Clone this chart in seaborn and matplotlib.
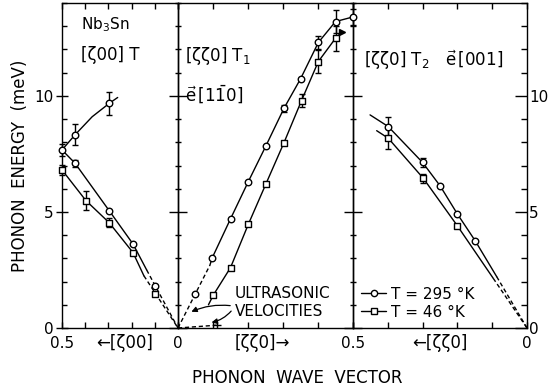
import matplotlib
matplotlib.use("Agg")
import matplotlib.pyplot as plt
from matplotlib.lines import Line2D
from matplotlib.ticker import MultipleLocator
import seaborn as sns

# values: zeta (r.l.u.) and phonon energy (meV)

# --- [z00] T panel ---
z00_up_q = [0.5, 0.444, 0.296]
z00_up_e = [7.67, 8.32, 9.68]
z00_up_err = [0.25, 0.45, 0.5]
z00_295_q = [0.444, 0.297, 0.194, 0.100]
z00_295_e = [7.10, 5.06, 3.62, 1.80]
z00_295_err = [0.15, 0, 0, 0]
z00_46_q = [0.5, 0.397, 0.297, 0.194, 0.100]
z00_46_e = [6.81, 5.49, 4.54, 3.25, 1.45]
z00_46_err = [0.2, 0.4, 0.2, 0, 0]
# curves as drawn (solid part, then dashed to the origin)
z00_up_curve_q = [0.5, 0.444, 0.37, 0.296, 0.26]
z00_up_curve_e = [7.67, 8.32, 9.1, 9.68, 9.93]
z00_295_curve_q = [0.5, 0.444, 0.297, 0.194, 0.135]
z00_295_curve_e = [7.67, 7.10, 5.06, 3.62, 2.50]
z00_295_dash_q = [0.135, 0.0]
z00_295_dash_e = [2.50, 0.0]
z00_46_curve_q = [0.5, 0.397, 0.297, 0.194, 0.147]
z00_46_curve_e = [6.81, 5.49, 4.54, 3.25, 2.25]
z00_46_dash_q = [0.147, 0.0]
z00_46_dash_e = [2.25, 0.0]

# --- [zz0] T1 panel ---
t1_295_q = [0.049, 0.098, 0.15, 0.201, 0.251, 0.303, 0.35, 0.401, 0.45, 0.50]
t1_295_e = [1.47, 3.03, 4.70, 6.31, 7.84, 9.47, 10.73, 12.3, 13.2, 13.4]
t1_295_err = [0, 0, 0, 0, 0, 0.15, 0, 0.3, 0.5, 0.35]
t1_46_q = [0.101, 0.15, 0.201, 0.251, 0.303, 0.353, 0.401, 0.45]
t1_46_e = [1.42, 2.60, 4.47, 6.20, 7.99, 9.80, 11.48, 12.48]
t1_46_err = [0, 0, 0, 0, 0, 0.3, 0.5, 0.55]
t1_295_curve_q = [0.091, 0.098, 0.15, 0.201, 0.251, 0.303, 0.35, 0.401, 0.45, 0.50]
t1_295_curve_e = [2.70, 3.03, 4.70, 6.31, 7.84, 9.47, 10.73, 12.3, 13.2, 13.4]
t1_46_curve_q = [0.087, 0.101, 0.15, 0.201, 0.251, 0.303, 0.353, 0.401, 0.45, 0.468]
t1_46_curve_e = [1.00, 1.42, 2.60, 4.47, 6.20, 7.99, 9.80, 11.48, 12.48, 12.75]
# ultrasonic velocities (dashed from the origin)
us_295_q = [0.0, 0.091]
us_295_e = [0.0, 2.70]
us_46_q = [0.0, 0.11]
us_46_e = [0.0, 0.12]

# --- [zz0] T2 panel ---
t2_295_q = [0.399, 0.30, 0.25, 0.20, 0.149]
t2_295_e = [8.68, 7.13, 6.13, 4.91, 3.76]
t2_295_err = [0.4, 0.18, 0, 0, 0]
t2_46_q = [0.399, 0.298, 0.20]
t2_46_e = [8.18, 6.45, 4.40]
t2_46_err = [0.45, 0.2, 0]
t2_295_curve_q = [0.451, 0.399, 0.30, 0.25, 0.20, 0.149, 0.087]
t2_295_curve_e = [9.18, 8.68, 7.13, 6.13, 4.91, 3.76, 2.21]
t2_295_dash_q = [0.087, 0.0]
t2_295_dash_e = [2.21, 0.0]
t2_46_curve_q = [0.432, 0.399, 0.298, 0.20, 0.097]
t2_46_curve_e = [8.50, 8.18, 6.45, 4.40, 2.14]
t2_46_dash_q = [0.097, 0.0]
t2_46_dash_e = [2.14, 0.0]

sns.set_style("ticks")
plt.rcParams['font.family'] = ['DejaVu Sans']
plt.rcParams['mathtext.fontset'] = 'dejavusans'
for k in ("text.color", "axes.labelcolor", "xtick.color", "ytick.color", "axes.edgecolor"):
    plt.rcParams[k] = "black"

W, H = 552, 389
fig = plt.figure(figsize=(W / 100, H / 100), dpi=100)
gs = fig.add_gridspec(1, 3, width_ratios=[116, 175, 174], wspace=0,
                      left=62 / W, right=527 / W, bottom=1 - 328 / H, top=1 - 3 / H)
axes = [fig.add_subplot(gs[0, i]) for i in range(3)]
ax_l, ax_m, ax_r = axes

DASH = (0, (3, 2))


def curve(ax, q, e, dashed=False):
    sns.lineplot(x=q, y=e, ax=ax, color="black", lw=1.0, sort=False, estimator=None,
                 linestyle=DASH if dashed else "-", zorder=2)


def points(ax, q, e, err, marker):
    sns.scatterplot(x=q, y=e, ax=ax, marker=marker, s=22, color="white",
                    edgecolor="black", linewidth=1.0, zorder=4, clip_on=False)
    bars = [(a, b, c) for a, b, c in zip(q, e, err) if c > 0]
    if bars:
        bq, be, bc = zip(*bars)
        ax.errorbar(bq, be, yerr=bc, fmt="none", ecolor="black", elinewidth=1.0,
                    capsize=2.5, capthick=1.0, zorder=3, clip_on=False)


# left panel
curve(ax_l, z00_up_curve_q, z00_up_curve_e)
curve(ax_l, z00_295_curve_q, z00_295_curve_e)
curve(ax_l, z00_295_dash_q, z00_295_dash_e, dashed=True)
curve(ax_l, z00_46_curve_q, z00_46_curve_e)
curve(ax_l, z00_46_dash_q, z00_46_dash_e, dashed=True)
points(ax_l, z00_up_q, z00_up_e, z00_up_err, "o")
points(ax_l, z00_295_q, z00_295_e, z00_295_err, "o")
points(ax_l, z00_46_q, z00_46_e, z00_46_err, "s")

# middle panel
curve(ax_m, t1_295_curve_q, t1_295_curve_e)
curve(ax_m, t1_46_curve_q, t1_46_curve_e)
curve(ax_m, us_295_q, us_295_e, dashed=True)
curve(ax_m, us_46_q, us_46_e, dashed=True)
ax_m.plot(us_46_q[-1:], us_46_e[-1:], marker="+", color="black", ms=6, mew=1.0)
ax_m.plot(t1_46_curve_q[-1:], t1_46_curve_e[-1:], marker=">", color="black", ms=4)
points(ax_m, t1_295_q, t1_295_e, t1_295_err, "o")
points(ax_m, t1_46_q, t1_46_e, t1_46_err, "s")

# right panel
curve(ax_r, t2_295_curve_q, t2_295_curve_e)
curve(ax_r, t2_295_dash_q, t2_295_dash_e, dashed=True)
curve(ax_r, t2_46_curve_q, t2_46_curve_e)
curve(ax_r, t2_46_dash_q, t2_46_dash_e, dashed=True)
points(ax_r, t2_295_q, t2_295_e, t2_295_err, "o")
points(ax_r, t2_46_q, t2_46_e, t2_46_err, "s")

# axes styling
for ax in axes:
    ax.set_facecolor("none")
    ax.set_ylim(0, 14)
    ax.set_xlabel("")
    ax.set_ylabel("")
    ax.yaxis.set_major_locator(MultipleLocator(5))
    ax.yaxis.set_minor_locator(MultipleLocator(1))
    ax.xaxis.set_major_locator(MultipleLocator(0.1))
    for sp in ax.spines.values():
        sp.set_visible(True)
        sp.set_linewidth(1.0)
    ax.tick_params(axis="x", which="major", direction="in", length=4, width=1.0,
                   top=True, bottom=True, labelbottom=False)
    ax.tick_params(axis="y", width=1.0, labelsize=11, pad=1.5)
    ax.tick_params(axis="y", which="minor", width=1.0)
ax_l.set_xlim(0.5, 0)
ax_m.set_xlim(0, 0.5)
ax_r.set_xlim(0.5, 0)

ax_l.tick_params(axis="y", which="major", direction="inout", length=9,
                 left=True, right=False, labelleft=True)
ax_l.tick_params(axis="y", which="minor", direction="in", length=3.5, left=True, right=False)
ax_m.tick_params(axis="y", which="major", direction="inout", length=13,
                 left=True, right=True, labelleft=False)
ax_m.tick_params(axis="y", which="minor", direction="inout", length=4.5, left=True, right=True)
ax_r.tick_params(axis="y", which="major", direction="in", length=9,
                 left=False, right=True, labelleft=False, labelright=True)
ax_r.tick_params(axis="y", which="minor", direction="in", length=4.5, left=False, right=True)
ax_m.set_zorder(3)

# x tick labels and direction labels under the axes
lab = dict(ha="center", va="center", fontsize=11)
for ax, x, s in [(ax_l, 0.5, "0.5"), (ax_l, 0.0, "0"), (ax_m, 0.5, "0.5"), (ax_r, 0.0, "0")]:
    ax.text(x, -0.047, s, transform=ax.get_xaxis_transform(), **lab)
ax_l.text(0.228, -0.047, "←[ζ00]", transform=ax_l.get_xaxis_transform(), ha="center", va="center", fontsize=12)
ax_m.text(0.24, -0.047, "[ζζ0]→", transform=ax_m.get_xaxis_transform(), ha="center", va="center", fontsize=12)
ax_r.text(0.25, -0.047, "←[ζζ0]", transform=ax_r.get_xaxis_transform(), ha="center", va="center", fontsize=12)

fig.text(297 / W, 1 - 378 / H, "PHONON  WAVE  VECTOR", ha="center", va="center", fontsize=12)
fig.text(20 / W, 1 - 166 / H, "PHONON  ENERGY  (meV)", ha="center", va="center",
         rotation=90, fontsize=12)

# panel annotations
ax_l.text(0.42, 13.05, r"Nb$_3$Sn", ha="left", va="center", fontsize=11)
ax_l.text(0.42, 11.75, "[ζ00] T", ha="left", va="center", fontsize=12)
ax_m.text(0.02, 11.7, r"[ζζ0] T$_1$", ha="left", va="center", fontsize=12)
ax_m.text(0.02, 10.1, r"$\vec{\mathrm{e}}\,[1\bar{1}0]$", ha="left", va="center", fontsize=12)
ax_r.text(0.467, 11.55, r"[ζζ0] T$_2$   $\vec{\mathrm{e}}\,[001]$", ha="left", va="center", fontsize=12)

ax_m.text(0.163, 1.5, "ULTRASONIC", ha="left", va="center", fontsize=11)
ax_m.text(0.163, 0.7, "VELOCITIES", ha="left", va="center", fontsize=11)
arrow = dict(arrowstyle="-|>", color="black", lw=0.9, mutation_scale=8)
ax_m.annotate("", xy=(0.031, 0.65), xytext=(0.157, 0.95),
              arrowprops=dict(connectionstyle="arc3,rad=0.15", **arrow))
ax_m.annotate("", xy=(0.088, 0.22), xytext=(0.157, 0.82),
              arrowprops=dict(connectionstyle="arc3,rad=-0.2", **arrow))

# legend
handles = [Line2D([], [], color="black", lw=1.0, marker=m, ms=4.5, mfc="white", mec="black", mew=1.0)
           for m in ("o", "s")]
ax_r.legend(handles, ["T = 295 °K", "T = 46 °K"], loc="lower left", bbox_to_anchor=(0.0, 0.0),
            frameon=False, fontsize=11, handlelength=1.6, handletextpad=0.35,
            labelspacing=0.2, borderaxespad=0.15)

fig.savefig("out.png", dpi=100)
